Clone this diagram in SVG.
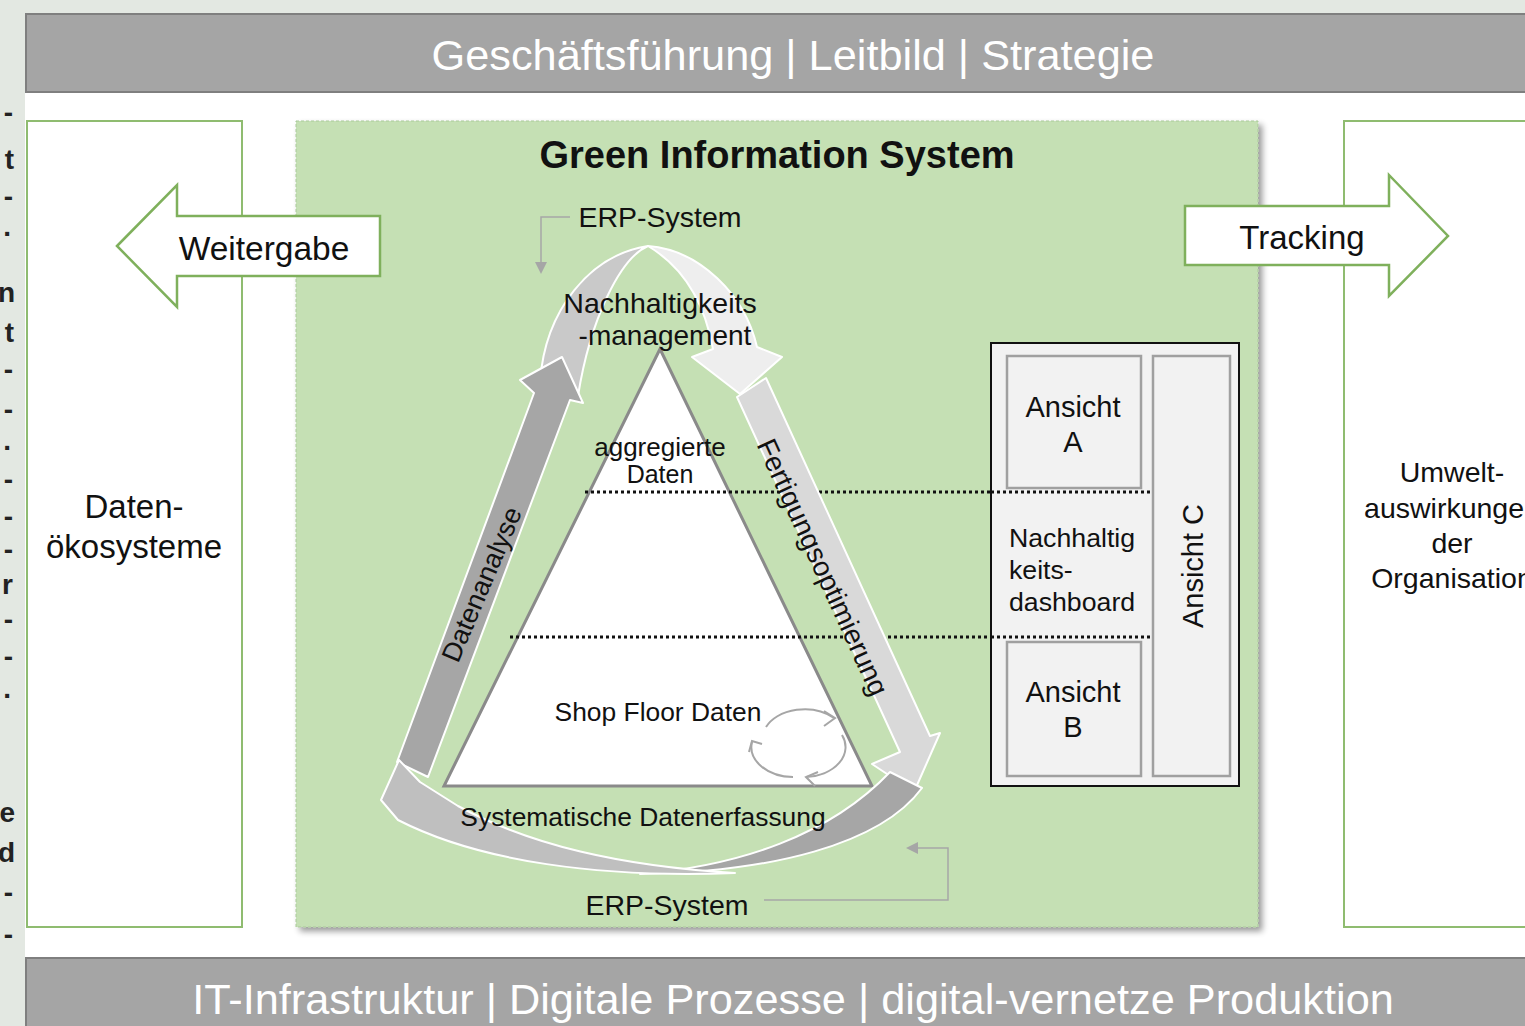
<svg xmlns="http://www.w3.org/2000/svg" width="1525" height="1026" viewBox="0 0 1525 1026">
<defs>
<style>
text{font-family:"Liberation Sans",Arial,sans-serif;fill:#111}
.band{fill:#a5a5a5;stroke:#7f7f7f;stroke-width:2}
.bandtxt{fill:#fff;font-size:43.3px;text-anchor:middle}
.gbox{fill:#fff;stroke:#8fbc70;stroke-width:2}
.blk{fill:#fff;stroke:#7fb05c;stroke-width:2.5}
.c{text-anchor:middle}
.dot{stroke:#111;stroke-width:3;stroke-dasharray:3 3;fill:none}
.arr{stroke:#fff;stroke-width:2;stroke-linejoin:round}
.view{fill:#f2f2f2;stroke:#a0a0a0;stroke-width:2.5}
.conn{fill:none;stroke:#a6a6a6;stroke-width:1.5}
.frag{font-size:28px;font-weight:bold;text-anchor:end;fill:#222}
</style>
<filter id="sh" x="-5%" y="-5%" width="112%" height="112%">
<feGaussianBlur in="SourceAlpha" stdDeviation="3"/>
<feOffset dx="4" dy="4"/>
<feComponentTransfer><feFuncA type="linear" slope="0.4"/></feComponentTransfer>
<feMerge><feMergeNode/><feMergeNode in="SourceGraphic"/></feMerge>
</filter>
</defs>

<rect x="0" y="0" width="1525" height="1026" fill="#e3e8e2"/>
<rect x="25" y="93" width="1500" height="866" fill="#ffffff"/>

<g id="fragments">
<text class="frag" x="13" y="122">-</text>
<text class="frag" x="14" y="169">t</text>
<text class="frag" x="13" y="206">-</text>
<text class="frag" x="11" y="236">.</text>
<text class="frag" x="15" y="302">n</text>
<text class="frag" x="14" y="342">t</text>
<text class="frag" x="13" y="379">-</text>
<text class="frag" x="13" y="419">-</text>
<text class="frag" x="11" y="450">.</text>
<text class="frag" x="13" y="489">-</text>
<text class="frag" x="13" y="526">-</text>
<text class="frag" x="13" y="559">-</text>
<text class="frag" x="13" y="594">r</text>
<text class="frag" x="13" y="629">-</text>
<text class="frag" x="13" y="666">-</text>
<text class="frag" x="11" y="698">.</text>
<text class="frag" x="15" y="822">e</text>
<text class="frag" x="15" y="862">d</text>
<text class="frag" x="13" y="902">-</text>
<text class="frag" x="13" y="944">-</text>
</g>

<g id="top-band">
<rect class="band" x="26" y="14" width="1510" height="78"/>
<text class="bandtxt" x="793" y="70">Geschäftsführung | Leitbild | Strategie</text>
</g>

<g id="bottom-band">
<rect class="band" x="26" y="958" width="1510" height="80"/>
<text class="bandtxt" x="793" y="1014">IT-Infrastruktur | Digitale Prozesse | digital-vernetze Produktion</text>
</g>

<g id="datenoekosysteme">
<rect class="gbox" x="27" y="121" width="215" height="806"/>
<text class="c" x="134" y="518" style="font-size:33px">Daten-</text>
<text class="c" x="134" y="558" style="font-size:33px">ökosysteme</text>
</g>

<g id="umweltauswirkungen">
<rect class="gbox" x="1344" y="121" width="200" height="806"/>
<text class="c" x="1452" y="482" style="font-size:28.5px">Umwelt-</text>
<text class="c" x="1452" y="518" style="font-size:28.5px">auswirkungen</text>
<text class="c" x="1452" y="553" style="font-size:28.5px">der</text>
<text class="c" x="1452" y="588" style="font-size:28.5px">Organisation</text>
</g>

<g id="green-information-system">
<rect x="296" y="121" width="962" height="806" fill="#c5e0b4" stroke="#a9c99a" stroke-width="1" stroke-dasharray="3 2" filter="url(#sh)"/>
<text class="c" x="777" y="168" style="font-size:38px;font-weight:bold">Green Information System</text>
</g>

<g id="weitergabe">
<polygon class="blk" points="117,246 177,185 177,216 380,216 380,276 177,276 177,307"/>
<text class="c" x="264" y="260" style="font-size:33.5px">Weitergabe</text>
</g>

<g id="tracking">
<polygon class="blk" points="1185,206 1389,206 1389,175 1448,236 1389,296 1389,265 1185,265"/>
<text class="c" x="1302" y="249" style="font-size:33px">Tracking</text>
</g>

<g id="pyramid">
<polygon points="660,349 872,786 444,786" fill="#fff" stroke="#8a8a8a" stroke-width="3" stroke-linejoin="miter"/>
<text class="c" x="660" y="456" style="font-size:26px">aggregierte</text>
<text class="c" x="660" y="483" style="font-size:25px">Daten</text>
<text class="c" x="658" y="721" style="font-size:26.4px">Shop Floor Daten</text>
<g fill="none" stroke="#a6a6a6" stroke-width="2">
<path d="M 766,727 A 42 30 0 0 1 834,718"/>
<path d="M 842,735 A 42 30 0 0 1 806,777"/>
<path d="M 793,777 A 42 30 0 0 1 752,742"/>
<path d="M 824,711 L 835,718 L 824,726"/>
<path d="M 818,772 L 806,777 L 815,786"/>
<path d="M 749,752 L 752,741 L 762,744"/>
</g>
</g>

<g id="connectors">
<line class="dot" x1="585" y1="492" x2="1152" y2="492"/>
<line class="dot" x1="510" y1="637" x2="1150" y2="637"/>
<polyline class="conn" points="570,217 541,217 541,262"/>
<polygon points="535,262 547,262 541,274" fill="#a6a6a6"/>
<polyline class="conn" points="764,900 948,900 948,848 918,848"/>
<polygon points="918,842 918,854 906,848" fill="#a6a6a6"/>
</g>

<g id="ansichten">
<rect x="991" y="343" width="248" height="443" fill="#f2f2f2" stroke="#111" stroke-width="2"/>
<rect class="view" x="1007" y="356" width="134" height="132"/>
<rect class="view" x="1007" y="642" width="134" height="134"/>
<rect class="view" x="1153" y="356" width="77" height="420"/>
<line class="dot" x1="991" y1="492" x2="1152" y2="492"/>
<line class="dot" x1="991" y1="637" x2="1150" y2="637"/>
<text class="c" x="1073" y="417" style="font-size:29px">Ansicht</text>
<text class="c" x="1073" y="452" style="font-size:29px">A</text>
<text class="c" x="1073" y="702" style="font-size:29px">Ansicht</text>
<text class="c" x="1073" y="737" style="font-size:29px">B</text>
<text x="1009" y="547" style="font-size:26.7px">Nachhaltig</text>
<text x="1009" y="579" style="font-size:26.7px">keits-</text>
<text x="1009" y="611" style="font-size:26.7px">dashboard</text>
<text class="c" transform="translate(1193,566) rotate(-90)" y="10" style="font-size:29px">Ansicht C</text>
</g>

<g id="kreislauf">
<path class="arr" fill="#c9c9c9" d="M 540,382 C 545,310 590,255 648,246 C 620,258 590,320 578,396 Z"/>
<polygon class="arr" fill="#a6a6a6" points="397,762 534,393 520,380 562,357 583,403 570,400 428,777"/>
<polygon class="arr" fill="#d9d9d9" points="737,397 766,378 930,736 940,733 914,792 872,764 900,752"/>
<path class="arr" fill="#eeeeee" d="M 648,246 C 700,250 745,295 757,347 L 782,357 L 740,394 L 692,357 L 713,349 C 705,305 685,268 648,246 Z"/>
<path class="arr" fill="#a6a6a6" d="M 890,772 L 922,788 C 880,845 770,872 640,874 C 740,866 830,835 890,772 Z"/>
<path class="arr" fill="#bfbfbf" d="M 381,800 L 399,760 L 420,782 L 458,806 C 530,845 620,866 735,873 C 600,878 480,862 398,820 Z"/>
<text class="c" transform="translate(481,584) rotate(-67)" y="10" style="font-size:27px">Datenanalyse</text>
<text class="c" transform="translate(823,567) rotate(65.5)" y="10" style="font-size:28px">Fertigungsoptimierung</text>
<text class="c" x="660" y="313" style="font-size:28.5px">Nachhaltigkeits</text>
<text class="c" x="665" y="345" style="font-size:28px">-management</text>
<text class="c" x="660" y="227" style="font-size:28.5px">ERP-System</text>
<text class="c" x="667" y="915" style="font-size:28.5px">ERP-System</text>
<text class="c" x="643" y="826" style="font-size:26.4px">Systematische Datenerfassung</text>
</g>
</svg>
